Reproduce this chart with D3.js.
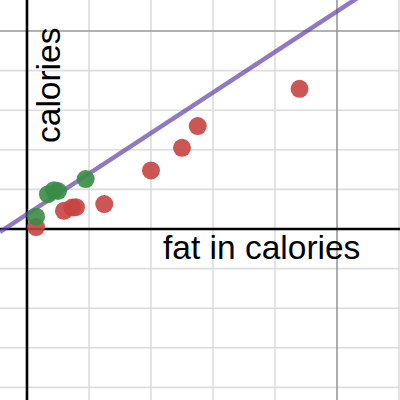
<!DOCTYPE html>
<html>
<head>
<meta charset="utf-8">
<script src="https://cdn.jsdelivr.net/npm/d3@7"></script>
<style>
html,body{margin:0;padding:0;background:#fff;}
svg{display:block;}
</style>
</head>
<body>
<svg id="chart" width="400" height="400"></svg>
<script>
// Data (x: fat in calories, y: calories)
const redX = [7.3, 29.8, 36.5, 39.5, 62.3, 100, 125, 137.7, 219.8];
const redY = [5, 46, 54, 55, 63, 148, 205, 260, 354];
const greenX = [7.3, 16.9, 21.8, 25, 47.3];
const greenY = [31, 88, 98, 96, 126];
const lineSlope = 2.05;
const lineIntercept = 37.1;
const xLabel = "fat in calories";
const yLabel = "calories";

const W = 400, H = 400;
const svg = d3.select("#chart");
const x = d3.scaleLinear().domain([-21.77, 300.8]).range([0, W]);
const y = d3.scaleLinear().domain([578.3, -431.8]).range([0, H]);

const xMinor = d3.range(-50, 351, 50);
const yMinor = d3.range(-500, 601, 100);

const g = svg.append("g");
// minor grid
g.selectAll(".vx").data(xMinor.filter(d => d % 250 !== 0)).join("line")
  .attr("x1", d => x(d)).attr("x2", d => x(d)).attr("y1", 0).attr("y2", H)
  .attr("stroke", "#dcdcdc").attr("stroke-width", 1.6);
g.selectAll(".hy").data(yMinor.filter(d => d % 500 !== 0)).join("line")
  .attr("y1", d => y(d)).attr("y2", d => y(d)).attr("x1", 0).attr("x2", W)
  .attr("stroke", "#dcdcdc").attr("stroke-width", 1.6);
// major grid
g.selectAll(".vxm").data(xMinor.filter(d => d % 250 === 0 && d !== 0)).join("line")
  .attr("x1", d => x(d)).attr("x2", d => x(d)).attr("y1", 0).attr("y2", H)
  .attr("stroke", "#999").attr("stroke-width", 1.6);
g.selectAll(".hym").data(yMinor.filter(d => d % 500 === 0 && d !== 0)).join("line")
  .attr("y1", d => y(d)).attr("y2", d => y(d)).attr("x1", 0).attr("x2", W)
  .attr("stroke", "#999").attr("stroke-width", 1.6);
// axes
g.append("line").attr("x1", x(0)).attr("x2", x(0)).attr("y1", 0).attr("y2", H)
  .attr("stroke", "#000").attr("stroke-width", 2.6);
g.append("line").attr("y1", y(0)).attr("y2", y(0)).attr("x1", 0).attr("x2", W)
  .attr("stroke", "#000").attr("stroke-width", 2.6);

// labels
g.append("text").attr("x", 163).attr("y", 259)
  .attr("font-family", "Liberation Sans, Arial, sans-serif").attr("font-size", 33.5)
  .attr("fill", "#000").text(xLabel);
g.append("text").attr("transform", "translate(60,143) rotate(-90)")
  .attr("font-family", "Liberation Sans, Arial, sans-serif").attr("font-size", 33.5)
  .attr("fill", "#000").text(yLabel);

// regression line
const xd = x.domain();
g.append("line")
  .attr("x1", x(xd[0])).attr("y1", y(lineSlope * xd[0] + lineIntercept))
  .attr("x2", x(xd[1])).attr("y2", y(lineSlope * xd[1] + lineIntercept))
  .attr("stroke", "#6042a6").attr("stroke-opacity", 0.7).attr("stroke-width", 4.5);

// points
const red = redX.map((d, i) => [d, redY[i]]);
const green = greenX.map((d, i) => [d, greenY[i]]);
g.selectAll(".r").data(red).join("circle")
  .attr("cx", d => x(d[0])).attr("cy", d => y(d[1])).attr("r", 9)
  .attr("fill", "#c74440").attr("fill-opacity", 0.9);
g.selectAll(".g").data(green).join("circle")
  .attr("cx", d => x(d[0])).attr("cy", d => y(d[1])).attr("r", 9)
  .attr("fill", "#388c46").attr("fill-opacity", 0.9);
</script>
</body>
</html>
